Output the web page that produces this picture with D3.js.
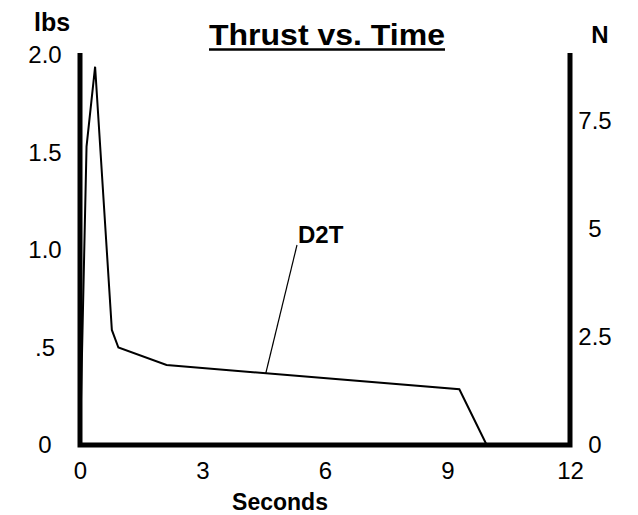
<!DOCTYPE html>
<html>
<head>
<meta charset="utf-8">
<script src="https://cdn.jsdelivr.net/npm/d3@7"></script>
<style>
  body { margin: 0; background: #fff; }
  text { font-family: "Liberation Sans", Arial, sans-serif; fill: #000; }
</style>
</head>
<body>
<div id="chart"></div>
<script>
// thrust curve
var timeSec = [0, 0.16, 0.37, 0.78, 0.94, 2.12, 9.29, 9.96];
var thrustLbs = [0, 1.53, 1.94, 0.59, 0.50, 0.41, 0.286, 0];

var xTicks = [0, 3, 6, 9, 12];
var lbsTicks = [0, 0.5, 1.0, 1.5, 2.0];
var lbsTickLabels = ["0", ".5", "1.0", "1.5", "2.0"];
var newtonTicks = [0, 2.5, 5, 7.5];
var newtonTickLabels = ["0", "2.5", "5", "7.5"];

var motorName = "D2T";
var leaderTime = 4.55;

var svgWidth = 638;
var svgHeight = 515;

var margin = {
  top: 55,
  right: 68,
  bottom: 70,
  left: 80
};

var width = svgWidth - margin.left - margin.right;
var height = svgHeight - margin.top - margin.bottom;

var svg = d3.select("#chart")
  .append("svg")
  .attr("width", svgWidth)
  .attr("height", svgHeight);

var chartGroup = svg.append("g")
  .attr("transform", `translate(${margin.left}, ${margin.top})`);

var xLinearScale = d3.scaleLinear()
  .domain([0, 12])
  .range([0, width]);

var yLinearScale = d3.scaleLinear()
  .domain([0, 2.0])
  .range([height, 0]);

var nLinearScale = d3.scaleLinear()
  .domain([0, 9.03])
  .range([height, 0]);

// axes, text only
var bottomAxis = d3.axisBottom(xLinearScale)
  .tickValues(xTicks)
  .tickSize(0)
  .tickPadding(17);

var leftAxis = d3.axisLeft(yLinearScale)
  .tickValues(lbsTicks)
  .tickSize(0)
  .tickFormat((d, i) => lbsTickLabels[i]);

var rightAxis = d3.axisRight(nLinearScale)
  .tickValues(newtonTicks)
  .tickSize(0)
  .tickFormat((d, i) => newtonTickLabels[i]);

var gx = chartGroup.append("g")
  .attr("transform", `translate(0, ${height})`)
  .call(bottomAxis);

var gl = chartGroup.append("g")
  .call(leftAxis);

var gr = chartGroup.append("g")
  .attr("transform", `translate(${width}, 0)`)
  .call(rightAxis);

[gx, gl, gr].forEach(function (g) {
  g.select(".domain").remove();
  g.selectAll("text")
    .style("font-size", "24px")
    .style("font-family", "Liberation Sans, Arial, sans-serif");
});

gl.selectAll("text")
  .attr("text-anchor", "middle")
  .attr("x", -35);

gr.selectAll("text")
  .attr("text-anchor", "middle")
  .attr("x", 25);

// heavy frame: left, bottom, right
chartGroup.append("path")
  .attr("d", `M${xLinearScale(0)},${yLinearScale(2.0) - 2} V${yLinearScale(0)} H${xLinearScale(12)} V${yLinearScale(2.0) - 2}`)
  .attr("fill", "none")
  .attr("stroke", "black")
  .attr("stroke-width", 5)
  .attr("stroke-linejoin", "miter");

// thrust line
var line = d3.line()
  .x((d, i) => xLinearScale(timeSec[i]))
  .y((d, i) => yLinearScale(thrustLbs[i]));

chartGroup.append("path")
  .datum(timeSec)
  .attr("d", line)
  .attr("fill", "none")
  .attr("stroke", "black")
  .attr("stroke-width", 2)
  .attr("stroke-linejoin", "miter");

// motor label with leader line
var thrustAt = d3.scaleLinear().domain(timeSec).range(thrustLbs);

chartGroup.append("line")
  .attr("x1", xLinearScale(leaderTime))
  .attr("y1", yLinearScale(thrustAt(leaderTime)))
  .attr("x2", 217)
  .attr("y2", 190)
  .attr("stroke", "black")
  .attr("stroke-width", 1.2);

chartGroup.append("text")
  .attr("x", 218)
  .attr("y", 188)
  .style("font-size", "24px")
  .style("font-weight", "bold")
  .text(motorName);

// titles
svg.append("text")
  .attr("x", 327)
  .attr("y", 45)
  .attr("text-anchor", "middle")
  .attr("textLength", 236)
  .attr("lengthAdjust", "spacingAndGlyphs")
  .style("font-size", "29px")
  .style("font-weight", "bold")
  .text("Thrust vs. Time");

svg.append("line")
  .attr("x1", 209)
  .attr("x2", 445)
  .attr("y1", 49.5)
  .attr("y2", 49.5)
  .attr("stroke", "black")
  .attr("stroke-width", 2.5);

svg.append("text")
  .attr("x", 52)
  .attr("y", 31)
  .attr("text-anchor", "middle")
  .style("font-size", "25px")
  .style("font-weight", "bold")
  .text("lbs");

svg.append("text")
  .attr("x", 600)
  .attr("y", 43)
  .attr("text-anchor", "middle")
  .style("font-size", "24px")
  .style("font-weight", "bold")
  .text("N");

svg.append("text")
  .attr("x", 280)
  .attr("y", 510)
  .attr("text-anchor", "middle")
  .style("font-size", "23px")
  .style("font-weight", "bold")
  .text("Seconds");
</script>
</body>
</html>
